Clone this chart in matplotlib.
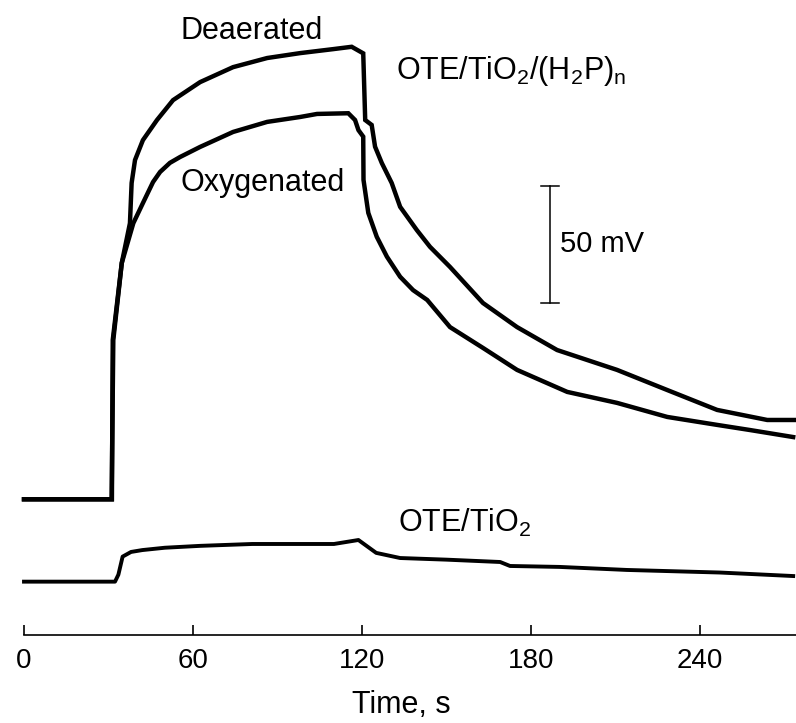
import matplotlib
matplotlib.use("Agg")
import matplotlib.pyplot as plt

plt.rcParams['font.family'] = ['Liberation Sans', 'DejaVu Sans']
plt.rcParams['mathtext.fontset'] = 'custom'
plt.rcParams['mathtext.rm'] = 'Liberation Sans'
plt.rcParams['mathtext.it'] = 'Liberation Sans:italic'
plt.rcParams['mathtext.default'] = 'regular'

# ---- data (time in s, photovoltage in mV above each trace's dark baseline) ----
deaer_t = [0, 31.1, 31.7, 34.7, 37.6, 38.2, 39.4, 42.2, 47.2, 52.9, 62.5, 74.2, 86.3,
           98.0, 109.7, 116.3, 120.4, 121.1, 123.4, 124.6, 127.0, 130.5, 133.5, 139.4,
           144.1, 151.2, 162.9, 175.0, 189.2, 210.5, 228.3, 246.0, 263.8, 274.0]
deaer_v = [0, 0, 68.1, 101.0, 118.0, 135.2, 145.0, 153.5, 162.1, 170.6, 178.3, 184.7, 188.6,
           190.7, 192.4, 193.4, 190.6, 162.1, 160.0, 150.7, 143.7, 135.2, 125.0, 115.1,
           107.9, 99.3, 83.9, 73.6, 63.8, 55.3, 46.7, 38.2, 33.9, 33.9]

oxy_t = [0, 31.2, 31.5, 34.7, 38.8, 42.2, 45.8, 48.3, 51.8, 55.4, 62.5, 74.2, 86.3, 98.0,
         104.0, 115.1, 117.5, 118.7, 120.4, 120.5, 122.2, 125.2, 128.8, 133.5, 138.1,
         143.1, 151.2, 162.9, 175.0, 192.8, 210.5, 228.3, 246.0, 257.7, 273.0]
oxy_v = [0, 0, 68.1, 101.0, 118.0, 126.6, 135.6, 139.9, 143.8, 146.3, 150.6, 157.0, 161.3, 163.4,
         164.7, 165.0, 162.1, 157.8, 155.0, 136.5, 122.4, 112.2, 103.7, 95.1, 89.4,
         85.2, 73.6, 64.7, 55.3, 45.9, 41.2, 35.2, 31.8, 29.6, 26.6]

tio2_t = [0, 32.3, 33.5, 35.0, 38.0, 42.0, 50.0, 62.5, 81.0, 110.0, 118.7, 125.0, 133.5,
          150.0, 169.0, 172.5, 190.0, 214.0, 247.0, 273.0]
tio2_v = [0, 0, 3.0, 10.7, 12.7, 13.5, 14.5, 15.3, 16.1, 16.1, 17.8, 12.3, 10.1,
          9.4, 8.4, 6.7, 6.3, 5.0, 3.9, 2.4]

tio2_offset = -35.2          # vertical display offset of the OTE/TiO2 trace (mV)
scale_bar = [84.0, 134.0]    # 50 mV scale bar
xticks = [0, 60, 120, 180, 240]

fig = plt.figure(figsize=(7.96, 7.23), dpi=100)
ax = fig.add_axes([24/796, 88/723, 1 - 24/796, 1 - 88/723])
ax.set_xlim(0, 274)
ax.set_ylim(-58, 213.4)

ax.plot(deaer_t, deaer_v, color='black', lw=3.2, solid_joinstyle='miter', clip_on=False)
ax.plot(oxy_t, oxy_v, color='black', lw=3.2, solid_joinstyle='miter', clip_on=False)
ax.plot(tio2_t, [v + tio2_offset for v in tio2_v], color='black', lw=2.8, clip_on=False)

# scale bar
sb_x = 186.7
ax.plot([sb_x, sb_x], scale_bar, color='black', lw=1.1)
for yv in scale_bar:
    ax.plot([sb_x - 3.2, sb_x + 3.2], [yv, yv], color='black', lw=1.1)
ax.text(190.3, sum(scale_bar) / 2, '50 mV', fontsize=21, ha='left', va='center')

# annotations
ax.text(55.4, 196.7, 'Deaerated', fontsize=22, ha='left', va='baseline')
ax.text(55.4, 131.8, 'Oxygenated', fontsize=22, ha='left', va='baseline')
ax.text(132.1, 179.6, r'OTE/TiO$_2$/(H$_2$P)$_n$', fontsize=22, ha='left', va='baseline')
ax.text(132.9, -14.1, r'OTE/TiO$_2$', fontsize=22, ha='left', va='baseline')

# axes styling
for s in ['left', 'right', 'top']:
    ax.spines[s].set_visible(False)
ax.spines['bottom'].set_linewidth(1.2)
ax.set_yticks([])
ax.set_xticks(xticks)
ax.set_xticklabels([str(v) for v in xticks])
ax.tick_params(axis='x', direction='in', length=7.5, width=1.2, labelsize=20, pad=9)
ax.patch.set_visible(False)

fig.text(401.7/796, (723 - 713)/723, 'Time, s', fontsize=22, ha='center', va='baseline')

fig.savefig('out.png', dpi=100)
